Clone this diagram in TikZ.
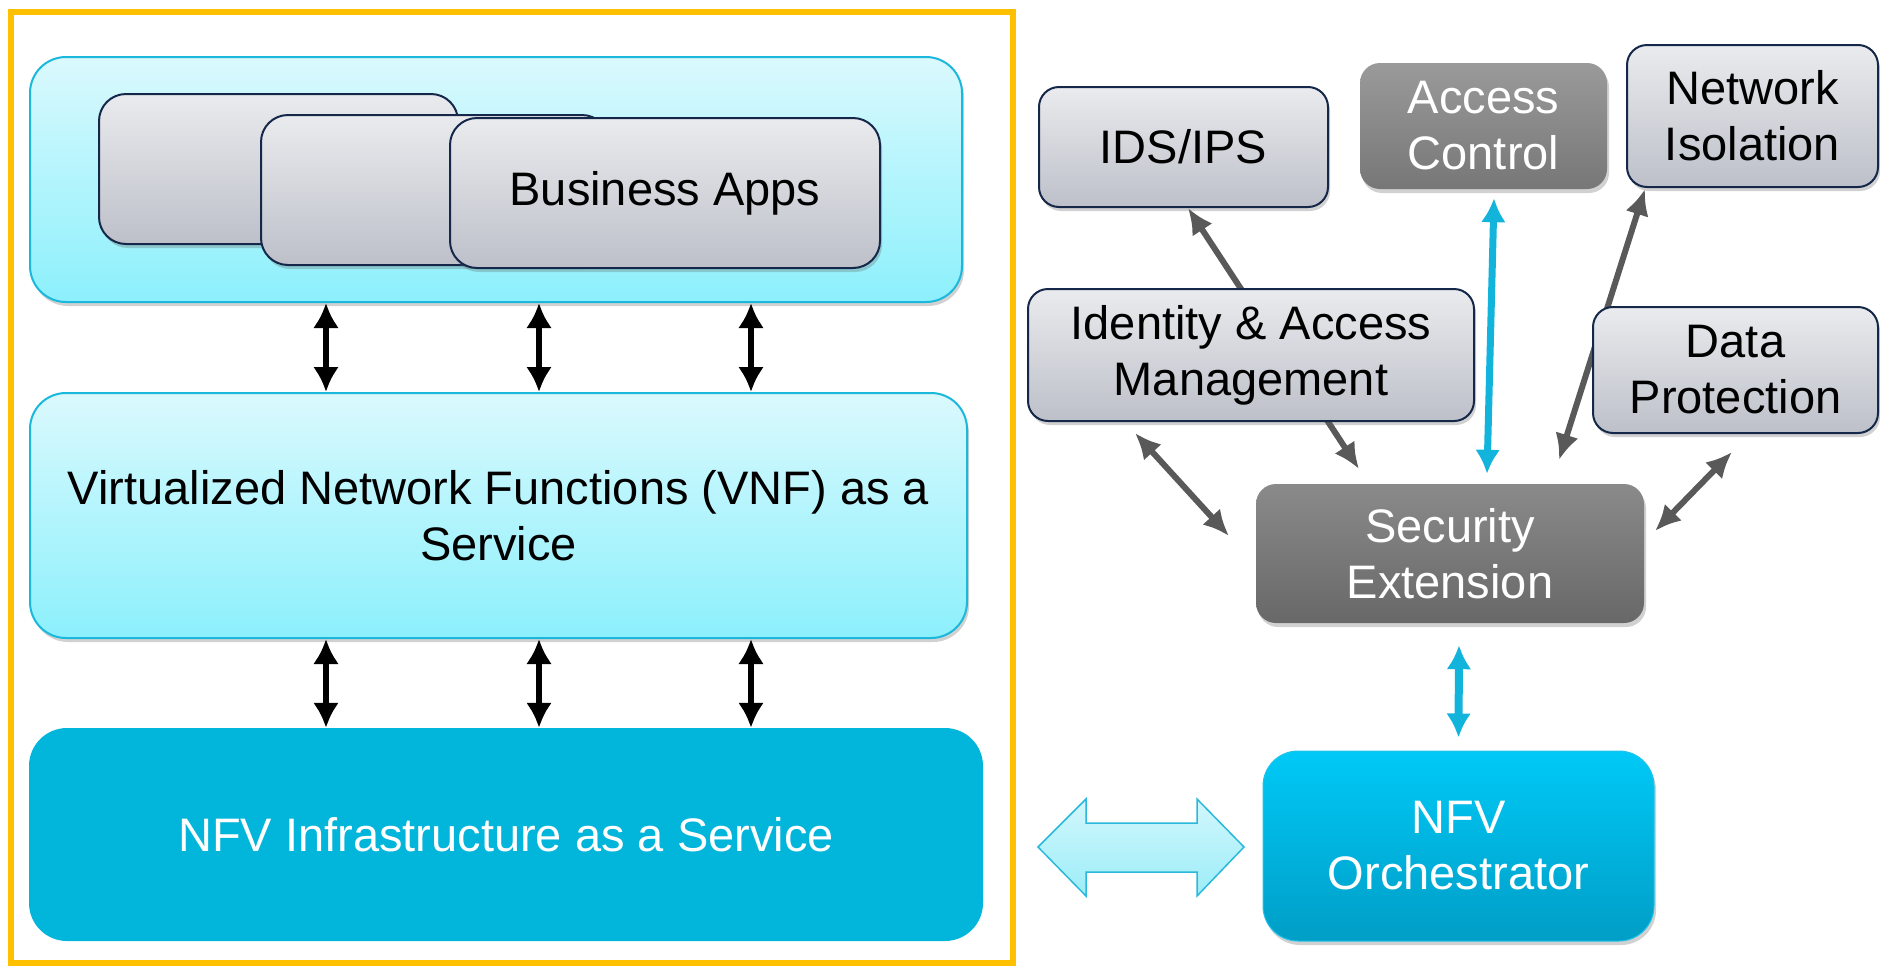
\documentclass[tikz,border=0pt]{standalone}
\usepackage{fontspec}
\setmainfont{Liberation Sans}
\usetikzlibrary{arrows.meta,shadows}

\definecolor{frameyellow}{HTML}{FFC000}
\definecolor{paneltop}{HTML}{DAF9FD}
\definecolor{panelbot}{HTML}{8CF0FC}
\definecolor{panelline}{HTML}{1CB8DC}
\definecolor{infra}{HTML}{02B5DA}
\definecolor{boxtop}{HTML}{EAEBEE}
\definecolor{boxbot}{HTML}{BDC0C9}
\definecolor{boxline}{HTML}{16284A}
\definecolor{darktop}{HTML}{9A9A9A}
\definecolor{darkbot}{HTML}{777777}
\definecolor{sectop}{HTML}{8A8A8A}
\definecolor{secbot}{HTML}{686868}
\definecolor{orchtop}{HTML}{00C9F7}
\definecolor{orchbot}{HTML}{009EC6}
\definecolor{orchline}{HTML}{22C2EA}
\definecolor{linkgray}{HTML}{595959}
\definecolor{linkcyan}{HTML}{12B4DC}
\definecolor{bigtop}{HTML}{D2F7FC}
\definecolor{bigbot}{HTML}{9CEDF8}
\definecolor{bigline}{HTML}{2BB8DA}

\begin{document}
\begin{tikzpicture}[x=1pt,y=-1pt,
  txt/.style={font=\fontsize{47}{56}\selectfont, align=center, inner sep=0pt},
  softshadow/.style={drop shadow={shadow xshift=2pt, shadow yshift=-4pt, opacity=0.3, fill=black!60}},
  panel/.style={txt, draw=panelline, line width=2pt, rounded corners=36pt,
    top color=paneltop, bottom color=panelbot, softshadow},
  appbox/.style={txt, draw=boxline, line width=2pt, rounded corners=27pt,
    top color=boxtop, bottom color=boxbot, softshadow},
  lightbox/.style={txt, draw=boxline, line width=2pt, rounded corners=20pt,
    top color=boxtop, bottom color=boxbot, softshadow},
  darkbox/.style={txt, text=white, rounded corners=20pt,
    top color=darktop, bottom color=darkbot, softshadow},
  secbox/.style={txt, text=white, rounded corners=20pt,
    top color=sectop, bottom color=secbot, softshadow},
  orchbox/.style={txt, text=white, draw=orchline, line width=1pt, rounded corners=35pt,
    top color=orchtop, bottom color=orchbot, softshadow},
  blacklink/.style={line width=6pt, draw=black,
    {Latex[length=25pt,width=26pt]}-{Latex[length=25pt,width=26pt]}},
  graylink/.style={line width=6pt, draw=linkgray,
    {Latex[length=26pt,width=24pt]}-{Latex[length=26pt,width=24pt]}},
  cyanlink/.style={line width=7pt, draw=linkcyan,
    {Latex[length=24pt,width=25pt]}-{Latex[length=24pt,width=25pt]}}
]
\useasboundingbox (0,0) rectangle (1880,967);

% outer frame round the service stack
\draw[frameyellow, line width=6pt] (11,12) rectangle (1013,963);

% service stack
\node[panel, minimum width=932pt, minimum height=245pt] (apps) at (496,179.5) {};
\node[appbox, minimum width=359pt, minimum height=150pt] (app1) at (278.5,169) {};
\node[appbox, minimum width=348pt, minimum height=150pt] (app2) at (435,190) {};
\node[appbox, minimum width=430pt, minimum height=150pt] (app3) at (665,193) {Business Apps};

\node[panel, minimum width=937pt, minimum height=245pt] (vnf) at (498.5,515.5)
  {Virtualized Network Functions (VNF) as a\\Service};

\node[txt, text=white, fill=infra, rounded corners=38pt, minimum width=954pt, minimum height=213pt]
  (nfvi) at (506,834.5) {NFV Infrastructure as a Service};

% links between the layers
\coordinate (c1) at (326,0);
\coordinate (c2) at (539,0);
\coordinate (c3) at (751,0);
\foreach \c in {c1,c2,c3}{
  \draw[blacklink] (apps.south -| \c) -- (vnf.north -| \c);
  \draw[blacklink] (vnf.south -| \c) -- (nfvi.north -| \c);
}

% security functions
\node[secbox, minimum width=388pt, minimum height=139pt] (sec) at (1450,553.5) {Security\\Extension};
\node[lightbox, minimum width=289pt, minimum height=120pt] (ids) at (1183.5,147) {IDS/IPS};
\node[darkbox, minimum width=247pt, minimum height=126pt] (acc) at (1483.5,126) {Access\\Control};
\node[lightbox, minimum width=251pt, minimum height=142pt] (iso) at (1752.5,116) {Network\\Isolation};

% links that run behind the middle boxes
\coordinate (idsTip) at (1188,208);
\coordinate (secA) at (1359,469);
\coordinate (isoTip) at (1645,189);
\coordinate (secB) at (1559,460);
\draw[graylink] (idsTip) -- (secA);
\draw[graylink] (isoTip) -- (secB);

\node[lightbox, minimum width=446pt, minimum height=132pt] (iam) at (1251,355)
  {Identity \& Access\\Management};
\node[lightbox, minimum width=285pt, minimum height=126pt] (dp) at (1735.5,370)
  {Data\\Protection};

\coordinate (iamEnd) at (1135,433);
\coordinate (secC) at (1229,536);
\coordinate (dpEnd) at (1732,452);
\coordinate (secD) at (1655,531);
\draw[graylink] (iamEnd) -- (secC);
\draw[graylink] (dpEnd) -- (secD);

\draw[cyanlink] ([xshift=10.5pt,yshift=-9pt]acc.south) -- ([xshift=37pt,yshift=10pt]sec.north);

% orchestrator
\node[orchbox, minimum width=391pt, minimum height=190pt] (orch) at (1458.5,846) {NFV\\Orchestrator};
\draw[cyanlink, line width=8pt] ([xshift=9pt,yshift=-22pt]sec.south) -- ([yshift=13pt]orch.north);

% wide two-way arrow between infrastructure and orchestrator
\coordinate (bigL) at (1038,847);
\coordinate (bigR) at (1244,847);
\draw[bigline, line width=1.5pt, top color=bigtop, bottom color=bigbot]
  (bigL) -- (1086,799) -- (1086,823) -- (1197,823) -- (1197,799) -- (bigR)
  -- (1197,896) -- (1197,872) -- (1086,872) -- (1086,896) -- cycle;
\end{tikzpicture}
\end{document}
